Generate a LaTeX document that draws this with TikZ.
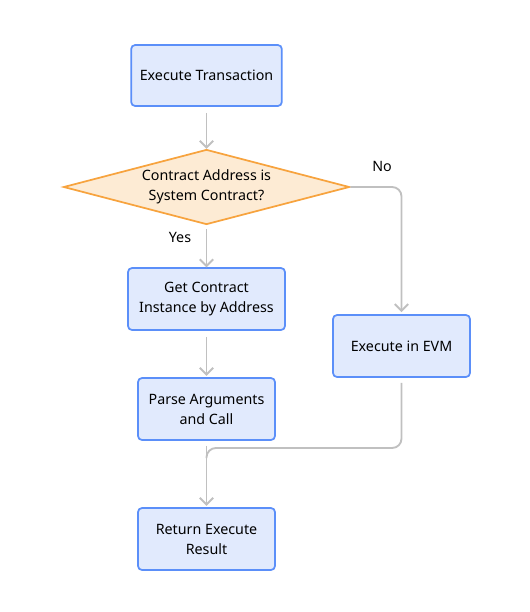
\documentclass[tikz,border=0pt]{standalone}
\usepackage{fontspec}
\setmainfont{Noto Sans}
\usetikzlibrary{shapes.geometric,arrows.meta}
\definecolor{boxfill}{HTML}{E1EAFD}
\definecolor{boxline}{HTML}{5B8FF9}
\definecolor{decfill}{HTML}{FDEBD4}
\definecolor{decline}{HTML}{F7A33E}
\definecolor{flow}{HTML}{C0C0C0}
\tikzset{
  stepbox/.style={draw=boxline, fill=boxfill, line width=1.3pt, rounded corners=3pt,
    align=center, inner sep=0pt},
  decision/.style={diamond, draw=decline, fill=decfill, line width=1.3pt,
    align=center, inner sep=0pt, aspect=3.8},
  flowline/.style={draw=flow, line width=1.4pt, ->, rounded corners=7pt}
}
\begin{document}
\begin{tikzpicture}[x=0.75pt, y=-0.75pt, >={Straight Barb[length=5pt,width=10pt]}, font=\fontsize{10.7}{15}\selectfont]
\useasboundingbox (0,0) rectangle (530,612);
\node[stepbox, minimum width=113pt, minimum height=45.75pt] (exec) at (206.5,75.5) {Execute Transaction};
\node[decision, minimum width=214.5pt, minimum height=56.25pt] (sys) at (206.5,187) {Contract Address is\\System Contract?};
\node[stepbox, minimum width=117.75pt, minimum height=46.5pt] (inst) at (206.5,299) {Get Contract\\Instance by Address};
\node[stepbox, minimum width=102.75pt, minimum height=46.5pt] (parse) at (206.5,409) {Parse Arguments\\and Call};
\node[stepbox, minimum width=102.75pt, minimum height=46.5pt] (evm) at (401.5,346) {Execute in EVM};
\node[stepbox, minimum width=102.75pt, minimum height=46.5pt] (ret) at (206.5,539) {Return Execute\\Result};
% branch and merge points
\coordinate (nocorner) at (401.5,187);
\coordinate (evmtop) at (401.5,312);
\coordinate (mergecorner) at (401.5,448);
\coordinate (join) at (206.5,448);
\node (nolabel) at (382,166) {No};
\node (yeslabel) at (180,237) {Yes};
\draw[flowline] (exec.south) ++(0,6) -- ++(0,36);
\draw[flowline] (sys.east) -- (nocorner) -- (evmtop);
\draw[flowline] (sys.south) ++(0,4) -- ++(0,38);
\draw[flowline] (inst.south) ++(0,6) -- ++(0,39);
\draw[flowline] (parse.south) ++(0,5) -- ++(0,60);
\draw[flowline, -] (evm.south) ++(0,5) -- (mergecorner) -- (join) -- ++(0,10);
\end{tikzpicture}
\end{document}
